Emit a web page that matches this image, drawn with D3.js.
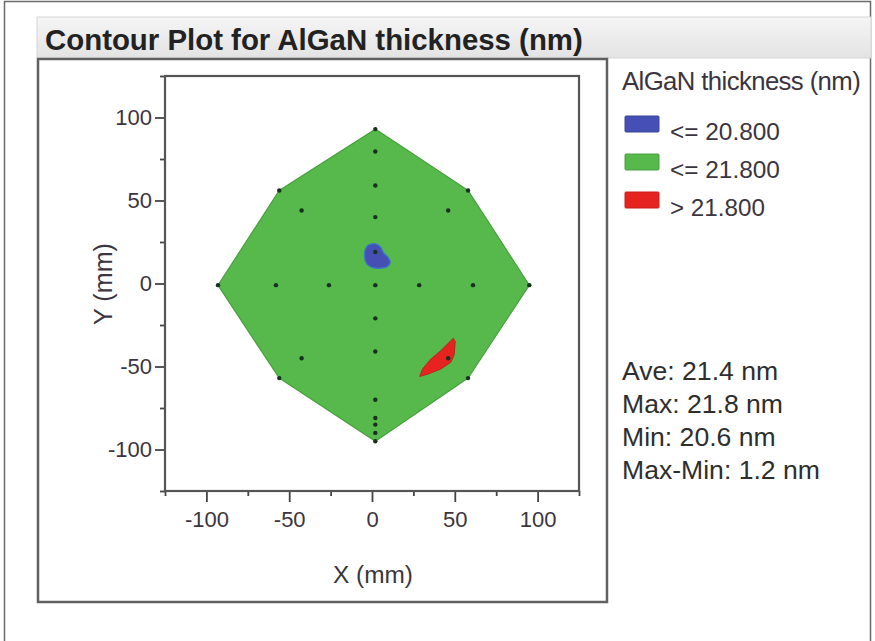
<!DOCTYPE html>
<html>
<head>
<meta charset="utf-8">
<script src="https://cdn.jsdelivr.net/npm/d3@7"></script>
<style>
  body { margin: 0; background: #fff; }
  svg { display: block; }
  text { font-family: "Liberation Sans", Arial, sans-serif; fill: #333; }
</style>
</head>
<body>
<svg width="875" height="641"></svg>
<script>
// ---- data (mm / nm) ----
const chartTitle = "Contour Plot for AlGaN thickness (nm)";
const legendTitle = "AlGaN thickness (nm)";
const legendLabels = ["<= 20.800", "<= 21.800", "> 21.800"];
const statLines = ["Ave: 21.4 nm", "Max: 21.8 nm", "Min: 20.6 nm", "Max-Min: 1.2 nm"];

const majorTicks = [-100, -50, 0, 50, 100];
const minorTicks = [-125, -75, -25, 25, 75, 125];

// wafer outline (edge measurement sites, clockwise from top)
const waferX = [2, 58, 95, 58, 2, -56, -93, -56];
const waferY = [93, 56, -1, -57, -95, -57, -1, 56];

// measurement sites
const siteX = [2, 2, 2, 2, 2, 2, 2, 2, 2, 2, 2, 2, 2,
               -56, 58, -42.5, 46, -93, -58, -26, 28.5, 61, 95, -42.5, 46, -56, 58];
const siteY = [93, 79.5, 59, 40, 19, -1, -21, -41, -70, -81, -85, -90, -95,
               56, 56, 44, 44, -1, -1, -1, -1, -1, -1, -45, -45, -57, -57];

// zone <= 20.800 (blue blob) and zone > 21.800 (red sliver)
const lowZoneX = [-2.4, 1.8, 5.0, 7.0, 9.5, 11.0, 9.3, 5.0, 0.4, -3.2, -4.5, -4.0];
const lowZoneY = [23.0, 24.0, 22.2, 18.4, 16.0, 13.0, 10.2, 9.2, 9.6, 11.8, 16.2, 20.6];
const highZoneX = [49.1, 50.3, 49.6, 47.6, 41.6, 34.0, 28.8, 30.5, 35.5, 41.5, 45.5];
const highZoneY = [-33.0, -35.0, -43.0, -47.5, -51.5, -54.5, -56.0, -51.5, -45.5, -40.5, -36.5];

const zoneColors = ["#4650b4", "#57b94b", "#e5241f"];

// ---- layout ----
const svg = d3.select("svg");

// fits a text element to a target width by scaling its font size
function fitWidth(sel, w) {
  const fs = parseFloat(sel.attr("font-size"));
  const len = sel.node().getComputedTextLength();
  sel.attr("font-size", (fs * w / len).toFixed(2));
  return sel;
}

// outer frame
svg.append("rect")
  .attr("x", 4.5).attr("y", 1.5).attr("width", 866).attr("height", 645)
  .attr("fill", "none").attr("stroke", "#6a6a6a").attr("stroke-width", 1.5);

// title band
const grad = svg.append("defs").append("linearGradient")
  .attr("id", "band").attr("x1", 0).attr("y1", 0).attr("x2", 0).attr("y2", 1);
grad.append("stop").attr("offset", "0%").attr("stop-color", "#f5f5f5");
grad.append("stop").attr("offset", "100%").attr("stop-color", "#e3e3e3");

svg.append("rect")
  .attr("x", 37).attr("y", 17).attr("width", 834).attr("height", 41)
  .attr("fill", "url(#band)").attr("stroke", "#d6d6d6");

const title = svg.append("text")
  .attr("x", 45).attr("y", 50)
  .attr("font-size", 22).attr("font-weight", "bold")
  .style("fill", "#222")
  .text(chartTitle);
fitWidth(title, 538);

// chart panel
svg.append("rect")
  .attr("x", 38).attr("y", 59).attr("width", 569).attr("height", 543)
  .attr("fill", "#fff").attr("stroke", "#606060").attr("stroke-width", 2.5);

// ---- plot ----
const x = d3.scaleLinear().domain([-125, 125]).range([165, 579]);
const y = d3.scaleLinear().domain([-125, 125]).range([491, 76]);

const line = d3.line().x(d => x(d[0])).y(d => y(d[1])).curve(d3.curveLinearClosed);
const zip = (xs, ys) => xs.map((v, i) => [v, ys[i]]);

svg.append("path")
  .attr("d", line(zip(waferX, waferY)))
  .attr("fill", zoneColors[1]).attr("stroke", "#47a03d").attr("stroke-width", 1.2);

svg.append("path")
  .attr("d", d3.line().x(d => x(d[0])).y(d => y(d[1])).curve(d3.curveCatmullRomClosed)(zip(lowZoneX, lowZoneY)))
  .attr("fill", zoneColors[0]).attr("stroke", "#3a78c8").attr("stroke-width", 1.3);

svg.append("path")
  .attr("d", line(zip(highZoneX, highZoneY)))
  .attr("fill", zoneColors[2]).attr("stroke", "#b42a22").attr("stroke-width", 1);

svg.append("g").selectAll("circle")
  .data(zip(siteX, siteY))
  .join("circle")
  .attr("cx", d => x(d[0])).attr("cy", d => y(d[1]))
  .attr("r", 2.2).attr("fill", "#17301f");

// axes
const fmt = d => String(d);
const gx = svg.append("g").attr("transform", "translate(0,491)");
gx.call(d3.axisBottom(x).tickValues(majorTicks).tickSize(11).tickPadding(6).tickFormat(fmt));
const gxm = svg.append("g").attr("transform", "translate(0,491)");
gxm.call(d3.axisBottom(x).tickValues(minorTicks).tickSize(5).tickFormat(""));

const gy = svg.append("g").attr("transform", "translate(165,0)");
gy.call(d3.axisLeft(y).tickValues(majorTicks).tickSize(10).tickPadding(3).tickFormat(fmt));
const gym = svg.append("g").attr("transform", "translate(165,0)");
gym.call(d3.axisLeft(y).tickValues(minorTicks).tickSize(5).tickFormat(""));

svg.selectAll(".domain").remove();
svg.selectAll(".tick line").attr("stroke", "#444").attr("stroke-width", 1.8);
svg.selectAll(".tick text")
  .style("font-size", "22px").style("font-family", "'Liberation Sans', Arial, sans-serif")
  .style("fill", "#3b3540");
gx.selectAll(".tick text").attr("dy", "0.85em");

// plot frame
svg.append("rect")
  .attr("x", 165).attr("y", 76).attr("width", 414).attr("height", 415)
  .attr("fill", "none").attr("stroke", "#555").attr("stroke-width", 2.2);

// axis titles
const xt = svg.append("text")
  .attr("x", 373).attr("y", 583).attr("text-anchor", "middle")
  .attr("font-size", 20).style("fill", "#3b3540").text("X (mm)");
fitWidth(xt, 80);

const yt = svg.append("text")
  .attr("transform", "translate(112,284) rotate(-90)").attr("text-anchor", "middle")
  .attr("font-size", 20).style("fill", "#3b3540").text("Y (mm)");
fitWidth(yt, 82);

// ---- legend ----
const lt = svg.append("text")
  .attr("x", 622).attr("y", 90)
  .attr("font-size", 18).attr("letter-spacing", -0.6).style("fill", "#3b3540")
  .text(legendTitle);
fitWidth(lt, 233);

const legendWidths = [110, 110, 95];
const lg = svg.append("g").selectAll("g")
  .data(legendLabels)
  .join("g")
  .attr("transform", (d, i) => `translate(625,${116 + i * 38})`);

lg.append("rect")
  .attr("width", 34).attr("height", 16).attr("rx", 1)
  .attr("fill", (d, i) => zoneColors[i])
  .attr("stroke", (d, i) => d3.color(zoneColors[i]).darker(0.4)).attr("stroke-width", 1);

lg.append("text")
  .attr("x", 45).attr("y", 24)
  .attr("font-size", 20).style("fill", "#3b3540")
  .text(d => d)
  .each(function (d, i) { fitWidth(d3.select(this), legendWidths[i]); });

// ---- summary statistics ----
const st = svg.append("g").selectAll("text")
  .data(statLines)
  .join("text")
  .attr("x", 622).attr("y", (d, i) => 380 + i * 33)
  .attr("font-family", "Lato, 'Open Sans', sans-serif")
  .attr("font-size", 19).style("fill", "#2e2e2e")
  .text(d => d);
const lastLen = st.nodes()[3].getComputedTextLength();
st.attr("font-size", (19 * 198 / lastLen).toFixed(2));
</script>
</body>
</html>
